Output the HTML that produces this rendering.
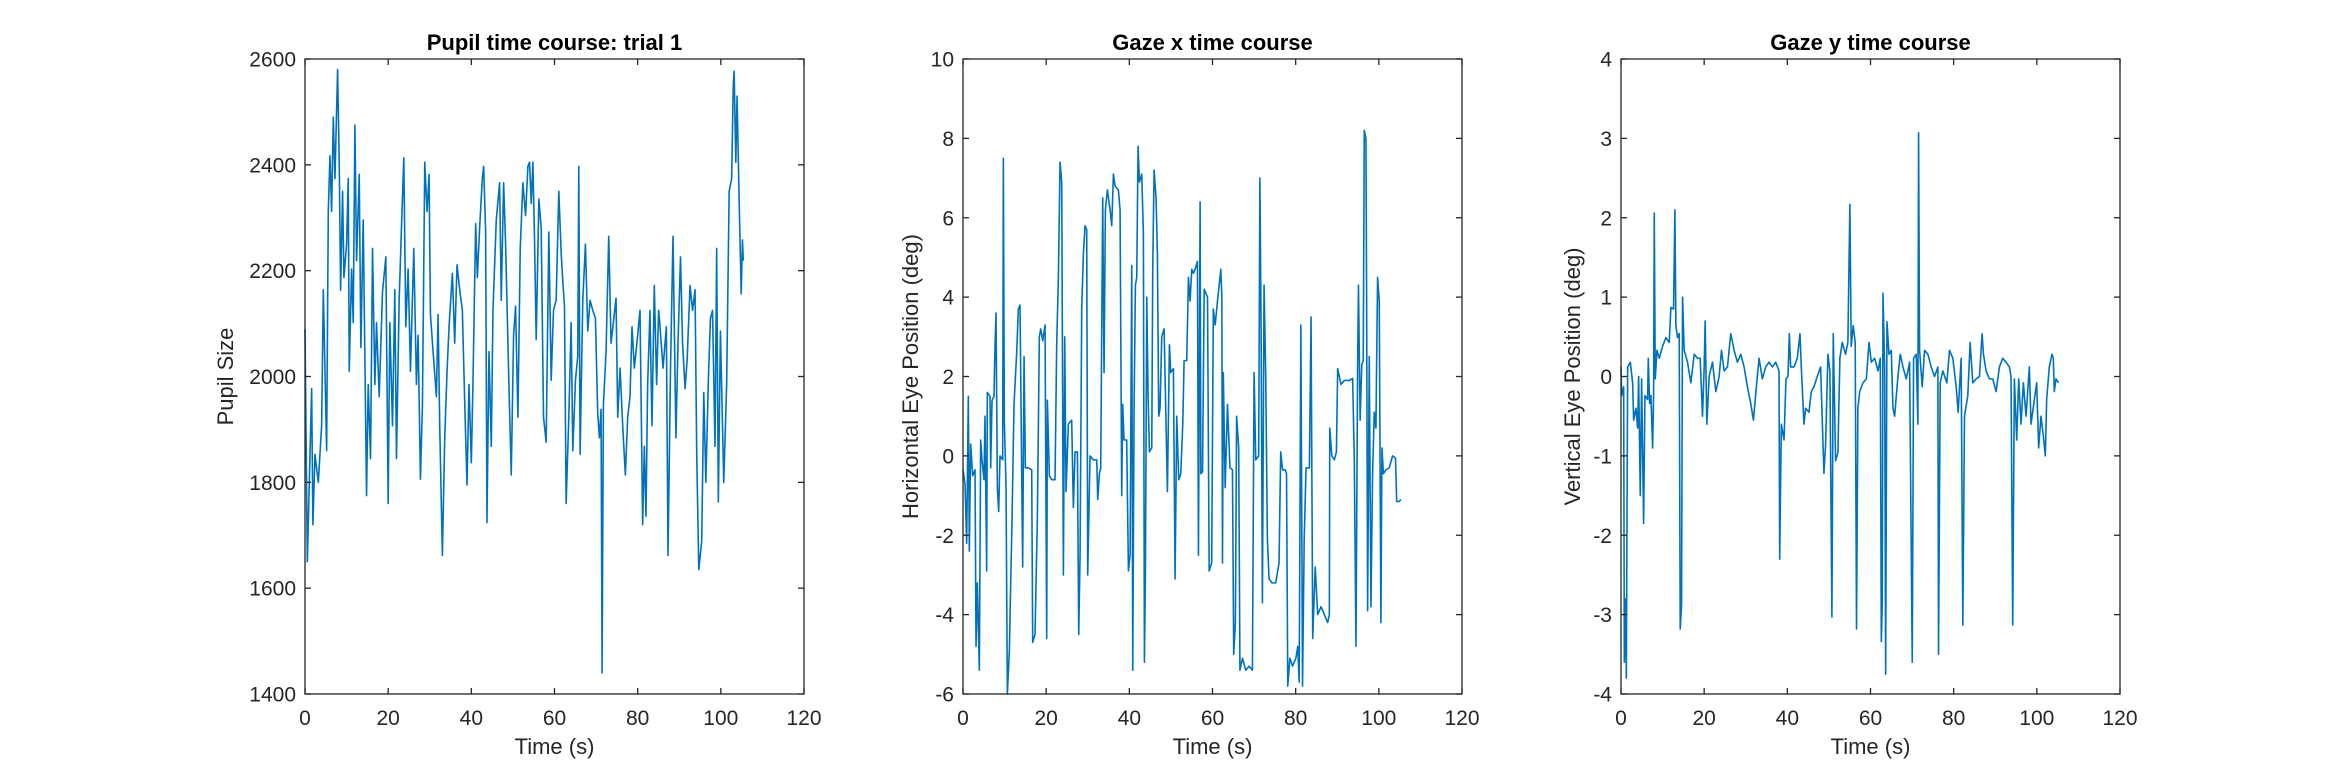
<!DOCTYPE html>
<html><head><meta charset="utf-8">
<style>
html,body{margin:0;padding:0;background:#fff;}
svg{display:block;font-family:"Liberation Sans",Arial,sans-serif;}
</style></head>
<body>
<svg id="fig" width="2344" height="781" viewBox="0 0 2344 781" xmlns="http://www.w3.org/2000/svg">
<rect width="2344" height="781" fill="#ffffff"/>
</svg>
<script>
// ---- shared axis data ----
const xTicks = [0, 20, 40, 60, 80, 100, 120];
const pupilTicks = [1400, 1600, 1800, 2000, 2200, 2400, 2600];
const gazeXTicks = [-6, -4, -2, 0, 2, 4, 6, 8, 10];
const gazeYTicks = [-4, -3, -2, -1, 0, 1, 2, 3, 4];

// ---- pupil series ----
const pupilT = [0,0.56,1.6,1.9,2.4,3.2,4.0,4.4,5.2,5.6,6.0,6.4,6.8,7.2,7.84,8.24,8.56,9.04,9.36,10.0,10.4,10.64,11.2,11.6,12.0,12.4,13.04,13.44,14.0,14.8,15.2,15.76,16.24,16.8,17.2,17.84,18.64,19.44,20.0,20.4,21.04,21.6,22.0,22.64,23.2,23.76,24.24,24.8,25.36,26.16,26.8,27.2,27.76,28.24,28.8,29.36,29.84,30.16,30.8,31.6,32.0,32.4,33.04,33.6,34.16,34.64,35.44,36.0,36.56,37.2,37.84,38.48,38.96,39.44,40.0,40.4,41.04,41.44,42.0,42.64,42.96,43.44,43.76,44.24,44.8,45.2,46.0,46.8,47.2,47.76,48.24,49.04,49.6,50.16,50.64,51.2,51.76,52.4,53.04,53.6,54.0,54.4,54.8,55.2,55.6,56.24,56.8,57.36,58.0,58.64,59.2,59.76,60.4,61.04,61.6,62.0,62.4,62.8,63.44,64.0,64.4,65.04,65.6,65.84,66.16,66.8,67.44,68.0,68.56,69.2,69.84,70.4,70.8,71.2,71.44,71.76,72.4,73.04,73.6,74.16,74.8,75.2,75.76,76.4,77.04,77.6,78.16,78.64,79.2,80.0,80.56,81.2,81.6,82.0,82.4,82.96,83.44,84.0,84.56,85.04,85.3,86.1,86.9,87.3,87.9,88.5,89.2,89.7,90.3,90.8,91.4,91.9,92.6,93.2,93.8,94.2,94.7,95.4,95.9,96.4,97.0,97.5,98.0,98.6,99.0,99.4,99.9,100.7,101.4,102.0,102.6,103.0,103.2,103.6,103.9,104.4,104.9,105.2,105.4];
const pupilV = [2090,1650,1977,1720,1853,1800,1907,2164,1860,2312,2417,2312,2490,2374,2580,2400,2163,2350,2187,2250,2374,2010,2203,2102,2475,2219,2382,2055,2296,1775,1985,1845,2242,1985,2102,1962,2160,2226,1760,2102,1907,2164,1845,2144,2281,2413,2094,2203,2010,2242,1985,2078,1806,1946,2405,2312,2382,2117,2047,1962,2117,1907,1662,1884,2010,2094,2195,2063,2211,2164,2125,1930,1795,1985,1837,1993,2289,2187,2281,2374,2397,2273,1724,2047,1868,2125,2296,2366,2144,2366,2250,1985,1814,2078,2133,1923,2242,2366,2304,2397,2405,2327,2405,2258,2070,2335,2281,1923,1876,2273,1993,2125,2144,2350,2234,2180,2133,1760,1923,2102,1860,1993,2039,2397,1853,2144,2250,2086,2144,2125,2110,1930,1884,1938,1440,1946,2047,2265,2063,2102,2148,1923,2016,1907,1814,1923,1962,2094,2016,2078,2125,1720,1868,1736,1985,2125,1907,2172,1985,2125,2102,2016,2094,1662,2016,2265,1884,2063,2226,2063,1977,2032,2172,2125,2164,1853,1635,1689,1970,1800,1993,2110,2125,1868,2242,1763,2086,1800,1985,2350,2374,2553,2577,2405,2530,2335,2156,2258,2219];

// ---- gaze x series ----
const gazeXT = [0,0.48,0.88,1.28,1.52,1.84,2.33,2.89,3.13,3.45,3.93,4.25,4.57,5.05,5.29,5.69,5.85,6.5,6.66,6.98,7.46,7.7,7.94,8.26,8.58,8.9,9.54,9.7,9.94,10.35,10.67,11.15,11.47,11.79,12.27,12.91,13.31,13.71,14.35,14.68,15.0,15.72,16.52,16.76,17.32,17.88,18.36,18.69,19.17,19.73,20.13,20.29,20.77,21.33,22.13,22.53,22.94,23.34,23.74,24.14,24.46,24.78,25.34,26.14,26.54,26.94,27.51,27.83,28.15,28.55,28.95,29.35,29.75,29.99,30.55,31.36,32.16,32.4,32.8,33.12,33.6,33.92,34.24,34.72,35.37,35.77,36.17,36.57,37.37,37.77,38.17,38.41,38.73,39.37,39.78,40.18,40.58,40.82,41.14,41.46,41.78,42.1,42.42,42.98,43.38,43.63,43.87,44.19,44.51,44.83,45.39,45.63,45.95,46.43,46.75,47.07,47.39,47.79,48.36,49.16,49.64,49.96,50.6,51.0,51.4,51.88,52.37,52.85,53.17,53.81,54.21,54.61,55.01,55.41,55.81,56.38,56.62,57.02,57.2,57.6,58.0,58.8,59.2,59.8,60.2,60.65,61.2,62.0,62.25,62.4,62.6,63.05,63.6,64.2,64.8,65.1,65.5,65.8,66.3,66.6,67.2,68.0,68.8,69.6,70.0,70.4,71.1,71.4,71.7,72.0,72.4,72.8,73.2,73.6,74.3,75.2,76.0,76.4,76.85,77.5,77.8,78.1,78.6,79.25,80.05,80.5,80.85,81.25,81.65,82.05,82.5,83.3,83.7,84.1,84.7,85.3,86.1,86.9,87.7,88.1,88.2,88.7,89.3,89.8,90.1,90.9,91.7,92.9,93.7,94.1,94.5,94.9,95.1,95.5,95.9,96.25,96.5,96.9,97.05,97.3,97.7,98.1,98.5,98.9,99.3,99.7,100.1,100.5,100.75,101.1,101.7,102.5,103.3,104.0,104.3,104.9,105.3];
const gazeXV = [-0.35,-0.7,-2.2,1.5,-2.4,0.3,-0.5,-0.35,-4.8,-3.2,-5.4,0.4,-0.1,-0.6,1.0,-2.9,1.6,1.5,-0.3,1.4,1.5,2.8,3.6,-0.8,-1.4,0,-0.1,7.5,0.9,-0.8,-6,-4.9,-3.2,-1.6,1.3,2.6,3.7,3.8,-2.8,2.5,-0.3,-0.3,-0.35,-4.7,-4.5,-1.6,3.0,3.2,2.9,3.3,-4.6,1.4,-0.5,-0.6,-0.6,2.8,4.5,7.4,6.9,-3.0,3.0,-0.9,0.8,0.9,-1.3,0.1,0.1,-4.5,-2.5,3.7,5.1,5.8,5.7,-3.0,0,-0.1,-0.1,-1.1,-0.45,-0.3,6.5,2.1,6.2,6.7,6.2,5.8,7.1,6.8,6.7,6.2,-1.0,1.3,0.4,0.4,-2.9,-2.5,4.8,-5.4,1.2,4.3,4.5,7.8,6.9,7.1,5.6,-5.2,-2.9,4.0,1.5,0.1,0.2,4.7,7.2,6.5,5.1,1.0,1.2,3.0,3.2,-0.9,2.8,2.1,2.2,-3.1,1.0,-0.6,-0.45,0.8,2.4,2.4,4.5,3.9,4.7,4.6,4.7,4.9,-2.5,6.4,-0.45,-0.4,4.2,4.0,-2.9,-2.7,3.7,3.3,3.9,4.7,4.0,-2.7,2.1,-0.8,1.3,-0.3,-0.35,-5.0,-4.2,1.0,0.2,-5.4,-5.1,-5.4,-5.3,-5.4,2.1,-0.1,0,7.0,3.0,-3.7,4.3,2.0,-2.1,-3.1,-3.2,-3.2,-2.7,0.1,-0.35,-0.35,-0.45,-5.8,-5.1,-5.3,-5.1,-4.8,-5.7,3.3,-5.8,-2.1,-0.3,-0.3,3.5,-4.6,-2.8,-4.0,-3.8,-4.0,-4.2,-4.0,0.7,0,-0.1,0.1,2.2,1.8,1.9,1.9,1.95,-0.1,-4.8,2.3,4.3,0.9,2.3,2.4,8.2,8.0,4.3,-3.9,2.5,-3.8,-0.45,1.1,0.7,4.5,3.9,-4.2,0.2,-0.45,-0.35,-0.3,0,-0.05,-1.15,-1.15,-1.1];

// ---- gaze y series ----
const gazeYT = [0,0.16,0.64,0.8,1.12,1.28,1.6,2.24,2.8,3.04,3.6,4.0,4.24,4.64,4.96,5.44,5.76,6.4,6.56,6.88,7.2,7.6,7.84,8.0,8.24,8.64,9.2,10.0,10.8,11.6,12.0,12.64,12.96,13.2,13.6,14.0,14.24,14.56,14.8,15.2,16.0,16.8,17.6,18.4,19.04,19.6,20.0,20.24,20.64,21.2,22.0,22.8,23.6,24.16,24.8,25.6,26.4,27.2,28.0,28.8,29.6,30.4,31.2,31.84,32.64,33.2,34.0,34.8,35.6,36.4,37.2,38.0,38.16,38.56,39.2,39.68,40.16,40.48,40.8,41.6,42.4,43.04,43.36,44.0,44.4,45.2,45.76,46.4,47.2,48.0,48.8,49.2,49.76,50.24,50.72,51.04,51.6,52.16,52.64,53.2,54.0,54.56,55.04,55.36,55.84,56.32,56.64,56.96,57.4,58.2,59.0,59.64,60.2,61.0,61.8,62.36,62.6,62.84,63.0,63.4,63.64,63.96,64.44,65.0,65.4,65.8,66.6,67.16,67.8,68.6,69.4,70.04,70.36,71.0,71.4,71.56,71.8,72.44,73.0,73.8,74.6,75.4,76.2,76.36,76.76,77.4,78.36,79.0,79.8,80.6,81.08,81.8,82.2,82.6,83.4,83.96,84.6,85.4,86.2,86.84,87.16,87.8,88.6,89.4,90.2,91.0,91.8,92.6,93.4,93.8,94.2,94.6,95.16,95.64,96.2,96.76,97.4,98.2,98.6,99.4,99.96,100.44,101.0,101.56,102.04,102.36,103.0,103.64,103.96,104.2,104.6,105.24];
const gazeYV = [0.12,-0.24,-0.13,-3.6,-2.8,-3.8,0.12,0.18,-0.08,-0.55,-0.4,-0.65,0,-1.5,-0.03,-1.85,-0.24,-0.29,0.23,-0.34,-0.24,-0.9,-0.24,2.06,-0.03,0.33,0.23,0.38,0.49,0.43,0.87,0.85,2.1,0.64,0.49,0.54,-3.18,-2.88,1.0,0.33,0.18,-0.08,0.28,0.23,0.23,-0.5,0.12,0.7,-0.6,0,0.18,-0.19,0,0.33,0.07,0.12,0.54,0.33,0.18,0.28,0.12,-0.13,-0.34,-0.55,-0.08,0.23,-0.03,0.12,0.18,0.12,0.18,0.07,-2.3,-0.6,-0.8,-0.03,0,0.54,0.12,0.12,0.23,0.54,0.12,-0.6,-0.4,-0.45,-0.19,-0.13,0,0.12,-1.22,-0.86,0.28,0.07,-3.03,0.54,-1.06,-0.96,0.23,0.43,0.28,0.43,2.17,0.38,0.64,0.43,-3.18,-0.4,-0.19,-0.08,-0.03,0.43,0.18,0.23,0.07,0.23,-3.34,-2.82,1.05,0.12,-3.75,0.69,0.28,0.33,-0.4,-0.5,0,0.28,0.12,-0.03,0.18,-3.6,0.23,0.28,-0.6,3.07,0.33,-0.13,0.33,0.28,0.12,0,0.12,-3.5,-0.08,0.07,-0.08,0.33,0.23,-0.13,-0.45,0.23,-3.13,-0.5,-0.24,0.43,-0.08,-0.03,0,0.54,0.28,0.07,-0.03,-0.03,-0.19,0.12,0.23,0.18,0.12,0,-3.13,-0.03,-0.8,-0.03,-0.6,-0.08,-0.5,0.12,-0.6,-0.29,-0.08,-0.9,-0.5,-0.75,-1.0,-0.29,0.12,0.28,0.23,-0.19,-0.03,-0.08];

const NS = 'http://www.w3.org/2000/svg';
const svg = document.getElementById('fig');
function mk(tag, attrs, parent) {
  const e = document.createElementNS(NS, tag);
  for (const k in attrs) e.setAttribute(k, attrs[k]);
  (parent || svg).appendChild(e);
  return e;
}

const TOP = 59, BOTTOM = 694, W = 499;
function drawPanel(left, yTicks, yMin, yMax, tArr, vArr, title, ylabel, key, ylOff) {
  const g = mk('g', {});
  
  
  const xs = t => left + (t - 0) / 120 * W;
  const ys = v => BOTTOM - (v - yMin) / (yMax - yMin) * (BOTTOM - TOP);

  let d = '';
  for (let i = 0; i < tArr.length; i++) {
    d += (i ? 'L' : 'M') + xs(tArr[i]).toFixed(2) + ' ' + ys(vArr[i]).toFixed(2);
  }
  const line = mk('path', {d: d, fill: 'none', stroke: '#0072BD', 'stroke-width': 1.6, 'stroke-linejoin': 'round'}, g);
  
  

  const box = mk('rect', {x: left, y: TOP, width: W, height: BOTTOM - TOP, fill: 'none', stroke: '#262626', 'stroke-width': 1.3}, g);
  
  

  xTicks.forEach(t => {
    const x = xs(t);
    mk('line', {x1: x, x2: x, y1: BOTTOM, y2: BOTTOM - 6, stroke: '#262626', 'stroke-width': 1.3}, g);
    mk('line', {x1: x, x2: x, y1: TOP, y2: TOP + 6, stroke: '#262626', 'stroke-width': 1.3}, g);
    const lb = mk('text', {x: x, y: 725, 'text-anchor': 'middle', 'font-size': 21, fill: '#262626'}, g);
    lb.textContent = t;
    
    
  });
  yTicks.forEach(v => {
    const y = ys(v);
    mk('line', {x1: left, x2: left + 6, y1: y, y2: y, stroke: '#262626', 'stroke-width': 1.3}, g);
    mk('line', {x1: left + W, x2: left + W - 6, y1: y, y2: y, stroke: '#262626', 'stroke-width': 1.3}, g);
    const lb = mk('text', {x: left - 9, y: y + 7.5, 'text-anchor': 'end', 'font-size': 21, fill: '#262626'}, g);
    lb.textContent = v;
    
    
  });
  const xl = mk('text', {x: left + W / 2, y: 754, 'text-anchor': 'middle', 'font-size': 22, fill: '#262626'}, g);
  xl.textContent = 'Time (s)';
  
  
  const yl = mk('text', {x: 0, y: 0, 'text-anchor': 'middle', 'font-size': 22, fill: '#262626',
    transform: 'translate(' + (left - ylOff) + ',' + ((TOP + BOTTOM) / 2) + ') rotate(-90)'}, g);
  yl.textContent = ylabel;
  
  
  const tt = mk('text', {x: left + W / 2, y: 50, 'text-anchor': 'middle', 'font-size': 22, 'font-weight': 'bold', fill: '#000'}, g);
  tt.textContent = title;
  
  
}

drawPanel(305, pupilTicks, 1400, 2600, pupilT, pupilV, 'Pupil time course: trial 1', 'Pupil Size', 'pupil', 72);
drawPanel(963, gazeXTicks, -6, 10, gazeXT, gazeXV, 'Gaze x time course', 'Horizontal Eye Position (deg)', 'gaze-x', 45);
drawPanel(1621, gazeYTicks, -4, 4, gazeYT, gazeYV, 'Gaze y time course', 'Vertical Eye Position (deg)', 'gaze-y', 41);
</script>
</body></html>
